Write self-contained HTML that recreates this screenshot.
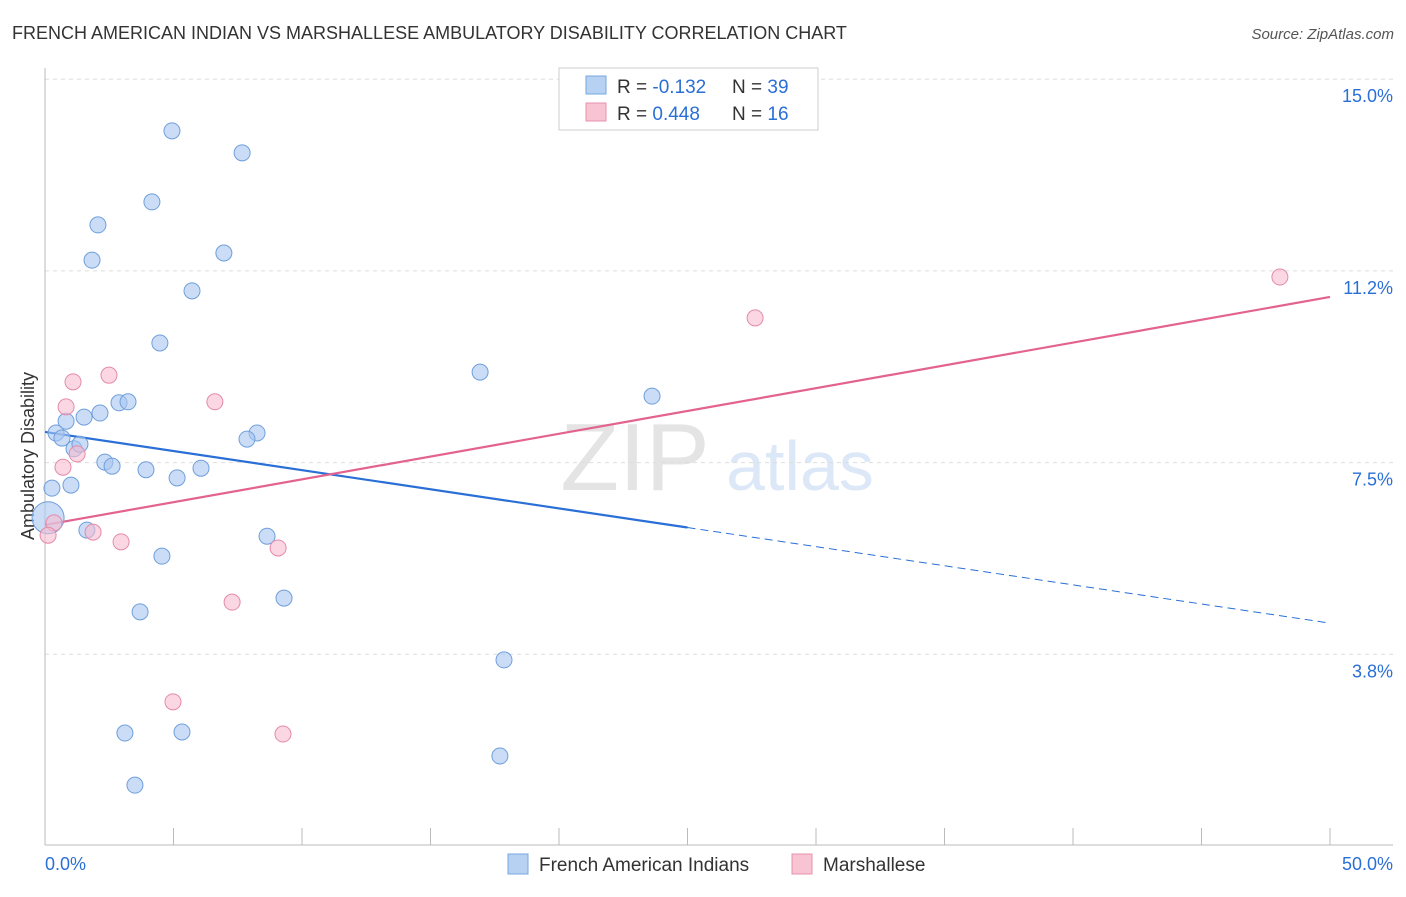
<!DOCTYPE html>
<html><head><meta charset="utf-8"><style>
body{margin:0;background:#fff;font-family:"Liberation Sans",sans-serif;}
svg text{font-family:"Liberation Sans",sans-serif;}
</style></head><body>
<svg id="c" width="1406" height="892" xmlns="http://www.w3.org/2000/svg">
<text x="12" y="39" font-size="18" fill="#333">FRENCH AMERICAN INDIAN VS MARSHALLESE AMBULATORY DISABILITY CORRELATION CHART</text>
<text x="1394" y="39" font-size="15" fill="#555" font-style="italic" text-anchor="end">Source: ZipAtlas.com</text>
<text x="635" y="490" font-size="96" fill="#e4e4e4" font-family="Liberation Serif" text-anchor="middle">ZIP</text>
<text x="800" y="490" font-size="70" fill="#dce8f7" text-anchor="middle">atlas</text>
<text transform="translate(34,456) rotate(-90)" font-size="18" fill="#333" text-anchor="middle">Ambulatory Disability</text>
<g id="grid"></g><g id="ticks"></g><g id="lines"></g><g id="pts"></g>
<g>
<rect x="559" y="68" width="259" height="62" fill="#fff" stroke="#ccc"/>
<rect x="586" y="76" width="20" height="18" fill="#b7d1f3" stroke="#7aa7e0"/>
<rect x="586" y="103" width="20" height="18" fill="#f8c4d4" stroke="#e890ab"/>
<text x="617" y="93" font-size="19" fill="#333">R = <tspan fill="#2a6fd6">-0.132</tspan></text>
<text x="732" y="93" font-size="19" fill="#333">N = <tspan fill="#2a6fd6">39</tspan></text>
<text x="617" y="120" font-size="19" fill="#333">R = <tspan fill="#2a6fd6"> 0.448</tspan></text>
<text x="732" y="120" font-size="19" fill="#333">N = <tspan fill="#2a6fd6"> 16</tspan></text>
</g>
<g>
<rect x="508" y="854" width="20" height="20" fill="#b7d1f3" stroke="#7aa7e0"/>
<text x="539" y="871" font-size="19" fill="#333">French American Indians</text>
<rect x="792" y="854" width="20" height="20" fill="#f8c4d4" stroke="#e890ab"/>
<text x="823" y="871" font-size="19" fill="#333">Marshallese</text>
</g>
</svg>
<script>
const xTickLabels=["0.0%","50.0%"];
const yTicks=[3.75,7.5,11.25,15];
const yTickLabels=["3.8%","7.5%","11.2%","15.0%"];
const blueX=[4.94,7.67,4.16,2.06,1.83,6.96,5.72,4.47,16.93,23.62,2.88,3.23,2.14,1.52,0.82,0.43,0.66,8.25,7.86,1.13,1.36,2.33,2.61,3.93,5.14,6.07,1.01,0.27,0.12,1.63,8.64,4.55,9.30,3.70,17.86,3.11,5.33,17.70,3.50];
const blueY=[13.99,13.56,12.60,12.15,11.46,11.60,10.86,9.84,9.27,8.80,8.67,8.69,8.47,8.39,8.31,8.08,7.98,8.08,7.96,7.77,7.86,7.51,7.43,7.36,7.20,7.39,7.06,7.00,6.42,6.18,6.06,5.67,4.85,4.58,3.64,2.21,2.23,1.76,1.19];
const pinkX=[48.05,27.63,2.49,1.09,6.61,0.82,1.25,0.70,0.35,1.87,0.12,2.96,9.07,7.28,4.98,9.26];
const pinkY=[11.13,10.33,9.21,9.08,8.69,8.59,7.67,7.41,6.32,6.14,6.08,5.95,5.83,4.77,2.82,2.19];
const blueTrend=[8.10,4.36];
const pinkTrend=[6.28,10.74];
const NS="http://www.w3.org/2000/svg";
const X=v=>45+v/50*1285, Y=v=>846-v/3.75*191.7;
function mk(t,a,p){const e=document.createElementNS(NS,t);for(const k in a)e.setAttribute(k,a[k]);document.getElementById(p).appendChild(e);return e;}
yTicks.forEach((t,i)=>{
 const l=mk('line',{x1:45,x2:1393,y1:Y(t),y2:Y(t),stroke:'#ddd','stroke-dasharray':'4,4'},'grid');
 
 
 const tx=mk('text',{x:1393,y:Y(t)+23,'font-size':18,fill:'#2a6fd6','text-anchor':'end'},'grid');
 tx.textContent=yTickLabels[i];
 
 
});
let ax=mk('line',{x1:45,x2:1393,y1:845,y2:845,stroke:'#bbb'},'ticks');


let ay=mk('line',{x1:45,x2:45,y1:68,y2:845,stroke:'#bbb'},'ticks');


for(let i=0;i<=10;i++){const t=mk('line',{x1:X(i*5),x2:X(i*5),y1:828,y2:845,stroke:'#bbb'},'ticks');
 
 }
[[0,'start',45],[50,'end',1393]].forEach((d,i)=>{const t=mk('text',{x:d[2],y:870,'font-size':18,fill:'#2a6fd6','text-anchor':d[1]},'ticks');t.textContent=xTickLabels[i];
 
 });
function pts(xs,ys,f,s,n){xs.forEach((x,i)=>{const c=mk('circle',{cx:X(x),cy:Y(ys[i]),r:(i==28&&n=='blue-point')?16:8,fill:f,'fill-opacity':0.6,stroke:s,'stroke-width':1},'pts');
 
 });}
pts(blueX,blueY,'#a9c7f0','#6f9fdc','blue-point');
pts(pinkX,pinkY,'#f7bcd0','#e58aa8','pink-point');
const bm=blueTrend[0]+(blueTrend[1]-blueTrend[0])*0.5;
let l1=mk('line',{x1:X(0),y1:Y(blueTrend[0]),x2:X(25),y2:Y(bm),stroke:'#2a6fd6','stroke-width':2.2},'lines');


let l2=mk('line',{x1:X(25),y1:Y(bm),x2:X(50),y2:Y(blueTrend[1]),stroke:'#2a6fd6','stroke-width':1,'stroke-dasharray':'8,5'},'lines');


let l3=mk('line',{x1:X(0),y1:Y(pinkTrend[0]),x2:X(50),y2:Y(pinkTrend[1]),stroke:'#e3628f','stroke-width':2.2},'lines');


</script>
</body></html>
